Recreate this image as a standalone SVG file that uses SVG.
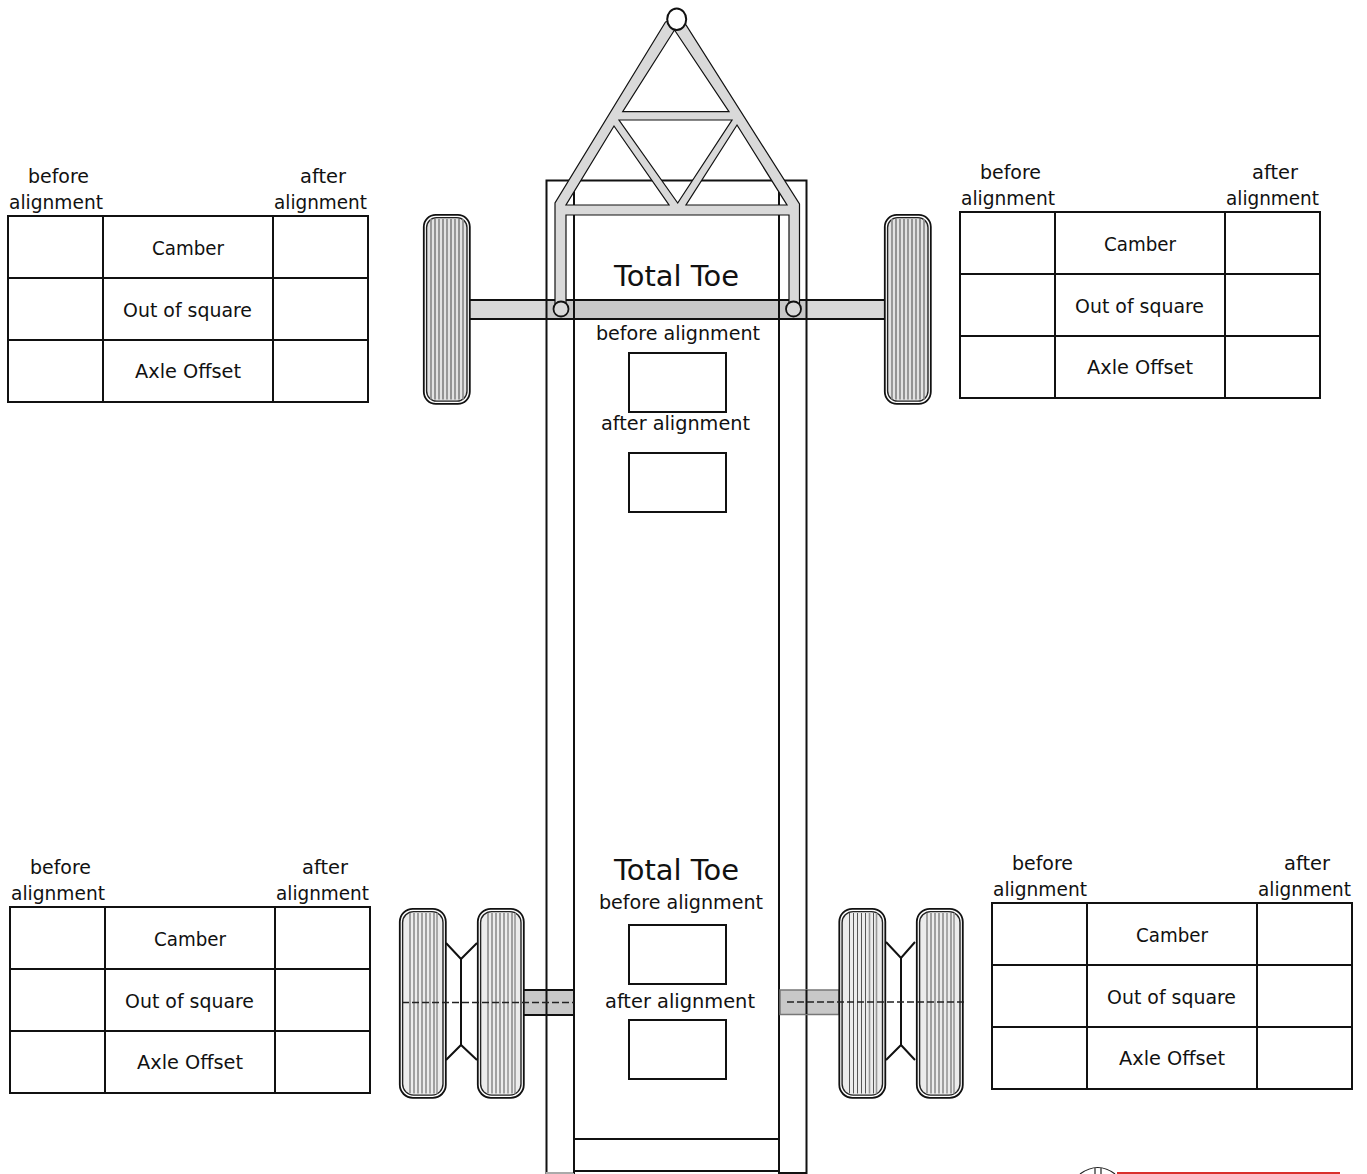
<svg xmlns="http://www.w3.org/2000/svg" width="1367" height="1174" viewBox="0 0 1367 1174">
<style>
text{font-family:"DejaVu Sans","Liberation Sans",sans-serif;font-size:19.5px;fill:#111}
.big{font-size:28px}
.ln{fill:none;stroke:#111;stroke-width:2}
.box{fill:#fff;stroke:#111;stroke-width:2}
.steel{fill:#d9d9d9;stroke:#111;stroke-width:1.2}
.dark{fill:#c8c8c8;stroke:#111;stroke-width:2}
.dash{fill:none;stroke:#222;stroke-width:1.3;stroke-dasharray:7 3}
.tire{fill:#fff;stroke:#111;stroke-width:1.8}
.tread{fill:#e2e2e2;stroke:#222;stroke-width:1.4}
</style>
<defs>
<g id="wheel-front">
<rect x="0.8" y="0.8" width="46" height="189" rx="12" class="tire"/>
<rect x="3.600" y="3.600" width="40.400" height="183.500" rx="10" class="tread"/>
<path d="M8 5V185.500M16 5V185.500M24 5V185.500M32 5V185.500M40 5V185.500" stroke="#8c8c8c" stroke-width="1.700" fill="none"/>
<path d="M12 5V185.500M20 5V185.500M28 5V185.500M36 5V185.500" stroke="#444" stroke-width="1" fill="none"/>
</g>
<g id="wheel-rear">
<rect x="0.8" y="0.8" width="46" height="189" rx="13" class="tire"/>
<rect x="3.600" y="3.600" width="40.400" height="183.500" rx="11" fill="#ececec" stroke="#222" stroke-width="1.400"/>
<path d="M11 5V185.500M15 5V185.500M19 5V185.500M23 5V185.500M27 5V185.500M35 5V185.500" stroke="#555" stroke-width="1" fill="none"/>
<path d="M31 5V185.500M38 5V185.500" stroke="#999" stroke-width="1.600" fill="none"/>
</g>
<g id="grid">
<rect x="0" y="0" width="360" height="186" class="box"/>
<path d="M95 0V186M265 0V186M0 62H360M0 124H360" class="ln"/>
</g>
</defs>
<g id="frame">
<rect x="546.500" y="180.500" width="260" height="992.500" fill="#fff" stroke="#111" stroke-width="2"/>
<path d="M546 1173H574" stroke="#aaa" stroke-width="2" fill="none"/>
<rect x="575" y="1172" width="203" height="2" fill="#fff"/>
<path d="M574 180.500V1173M779 180.500V1173M574 1139H779M574 1171H779" class="ln"/>
</g>
<g id="connectors">
<rect x="468" y="300" width="418" height="19" fill="#d9d9d9"/>
<rect x="547" y="300" width="259" height="19" fill="#c8c8c8"/>
<path d="M468 300H886M468 319H886M546.500 299V320M574 299V320M779 299V320M806.500 299V320" class="ln"/>
<rect x="523" y="990" width="51" height="25" class="dark"/>
<rect x="780" y="990" width="59" height="24.500" fill="#c8c8c8" stroke="#777" stroke-width="1.500"/>
<path d="M546.500 990V1015M806.500 990V1014" class="ln"/>
<path d="M446 943L461 959L477 943M461 959V1045M446 1060L461 1045L477 1060" class="ln"/>
<path d="M886 942L901 958L915 942M901 958V1045M886 1060L901 1045L915 1060" class="ln"/>
</g>
<g id="a-frame">
<path fill-rule="evenodd" class="steel" d="M665.500 22L555 203V309H566V215H789V309H799.500V204L686 25L677 19ZM674.500 30L729 111.700H622.700ZM619 120H732L677.700 203ZM614 126L669 205H566ZM737 125L787 205H686Z"/>
<ellipse cx="676.700" cy="19.300" rx="9.500" ry="10.800" fill="#fff" stroke="#111" stroke-width="2"/>
<circle cx="561" cy="309" r="7.500" fill="#d9d9d9" stroke="#111" stroke-width="1.800"/>
<circle cx="793.500" cy="309" r="7.500" fill="#d9d9d9" stroke="#111" stroke-width="1.800"/>
</g>
<g id="wheel-front-left"><use href="#wheel-front" x="423" y="214"/></g>
<g id="wheel-front-right"><use href="#wheel-front" x="884" y="214"/></g>
<g id="wheel-rear-left-outer"><use href="#wheel-rear" x="399" y="908"/></g>
<g id="wheel-rear-left-inner"><use href="#wheel-rear" x="477" y="908"/></g>
<g id="wheel-rear-right-inner"><use href="#wheel-rear" x="838.500" y="908"/></g>
<g id="wheel-rear-right-outer"><use href="#wheel-rear" x="916" y="908"/></g>
<g id="centerlines">
<path d="M402 1002.500H574" class="dash"/>
<path d="M787 1002H965" class="dash"/>
</g>
<g id="toe-front">
<text class="big" x="614" y="286" textLength="125" lengthAdjust="spacingAndGlyphs">Total Toe</text>
<text x="596" y="340" textLength="164" lengthAdjust="spacingAndGlyphs">before alignment</text>
<rect x="629" y="353" width="97" height="59" class="box"/>
<text x="601" y="430" textLength="149" lengthAdjust="spacingAndGlyphs">after alignment</text>
<rect x="629" y="453" width="97" height="59" class="box"/>
</g>
<g id="toe-rear">
<text class="big" x="614" y="880" textLength="125" lengthAdjust="spacingAndGlyphs">Total Toe</text>
<text x="599" y="909" textLength="164" lengthAdjust="spacingAndGlyphs">before alignment</text>
<rect x="629" y="925" width="97" height="59" class="box"/>
<text x="605" y="1008" textLength="150" lengthAdjust="spacingAndGlyphs">after alignment</text>
<rect x="629" y="1020" width="97" height="59" class="box"/>
</g>
<g id="table-front-left" transform="translate(8 216)">
<use href="#grid"/>
<text x="20" y="-33" textLength="61" lengthAdjust="spacingAndGlyphs">before</text>
<text x="1" y="-7" textLength="94" lengthAdjust="spacingAndGlyphs">alignment</text>
<text x="292" y="-33" textLength="46" lengthAdjust="spacingAndGlyphs">after</text>
<text x="266" y="-7" textLength="93" lengthAdjust="spacingAndGlyphs">alignment</text>
<text x="144" y="39" textLength="72" lengthAdjust="spacingAndGlyphs">Camber</text>
<text x="115" y="101" textLength="129" lengthAdjust="spacingAndGlyphs">Out of square</text>
<text x="127" y="162" textLength="106" lengthAdjust="spacingAndGlyphs">Axle Offset</text>
</g>
<g id="table-front-right" transform="translate(960 212)">
<use href="#grid"/>
<text x="20" y="-33" textLength="61" lengthAdjust="spacingAndGlyphs">before</text>
<text x="1" y="-7" textLength="94" lengthAdjust="spacingAndGlyphs">alignment</text>
<text x="292" y="-33" textLength="46" lengthAdjust="spacingAndGlyphs">after</text>
<text x="266" y="-7" textLength="93" lengthAdjust="spacingAndGlyphs">alignment</text>
<text x="144" y="39" textLength="72" lengthAdjust="spacingAndGlyphs">Camber</text>
<text x="115" y="101" textLength="129" lengthAdjust="spacingAndGlyphs">Out of square</text>
<text x="127" y="162" textLength="106" lengthAdjust="spacingAndGlyphs">Axle Offset</text>
</g>
<g id="table-rear-left" transform="translate(10 907)">
<use href="#grid"/>
<text x="20" y="-33" textLength="61" lengthAdjust="spacingAndGlyphs">before</text>
<text x="1" y="-7" textLength="94" lengthAdjust="spacingAndGlyphs">alignment</text>
<text x="292" y="-33" textLength="46" lengthAdjust="spacingAndGlyphs">after</text>
<text x="266" y="-7" textLength="93" lengthAdjust="spacingAndGlyphs">alignment</text>
<text x="144" y="39" textLength="72" lengthAdjust="spacingAndGlyphs">Camber</text>
<text x="115" y="101" textLength="129" lengthAdjust="spacingAndGlyphs">Out of square</text>
<text x="127" y="162" textLength="106" lengthAdjust="spacingAndGlyphs">Axle Offset</text>
</g>
<g id="table-rear-right" transform="translate(992 903)">
<use href="#grid"/>
<text x="20" y="-33" textLength="61" lengthAdjust="spacingAndGlyphs">before</text>
<text x="1" y="-7" textLength="94" lengthAdjust="spacingAndGlyphs">alignment</text>
<text x="292" y="-33" textLength="46" lengthAdjust="spacingAndGlyphs">after</text>
<text x="266" y="-7" textLength="93" lengthAdjust="spacingAndGlyphs">alignment</text>
<text x="144" y="39" textLength="72" lengthAdjust="spacingAndGlyphs">Camber</text>
<text x="115" y="101" textLength="129" lengthAdjust="spacingAndGlyphs">Out of square</text>
<text x="127" y="162" textLength="106" lengthAdjust="spacingAndGlyphs">Axle Offset</text>
</g>
<g id="logo">
<rect x="1117" y="1172" width="223" height="2" fill="#d9302c"/>
<path d="M1080 1174Q1098 1161 1115 1174M1095 1168V1174M1101 1168V1174" fill="none" stroke="#222" stroke-width="1.200"/>
</g>
</svg>
